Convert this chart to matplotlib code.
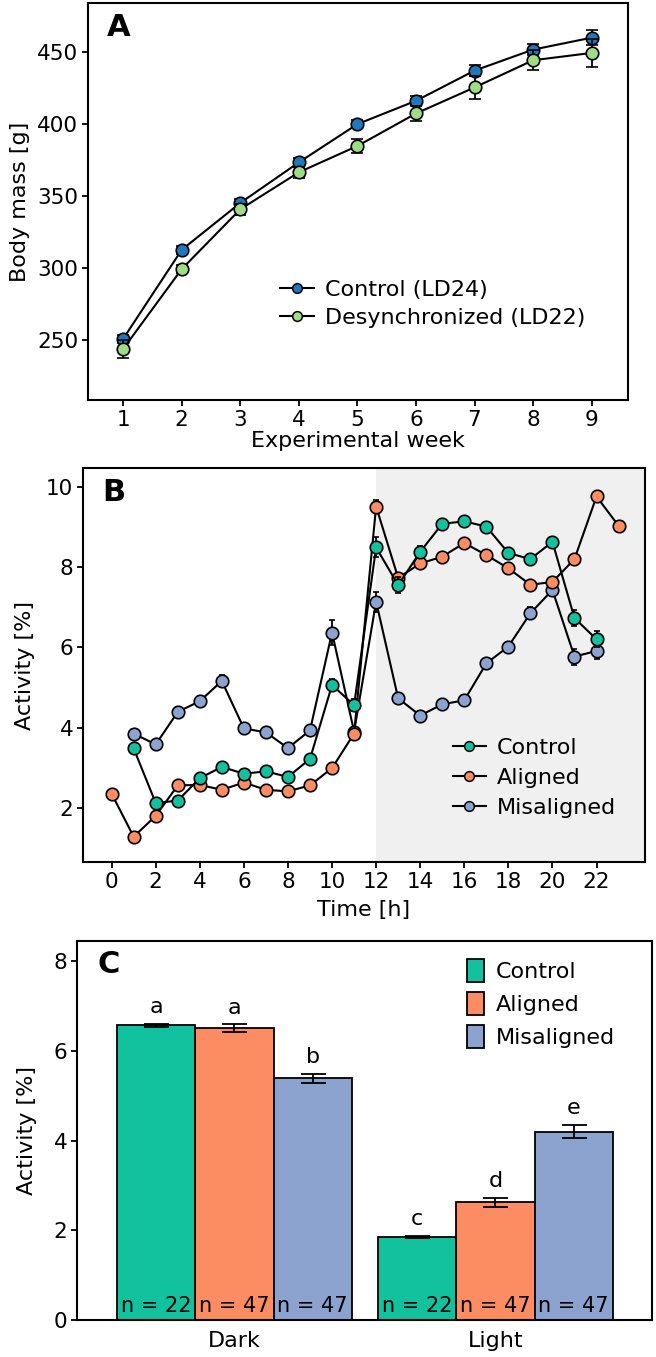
import matplotlib
matplotlib.use('Agg')
import matplotlib.pyplot as plt
from matplotlib.patches import Patch
from matplotlib.lines import Line2D

plt.rcParams['font.family'] = ['DejaVu Sans']

# ---------------- Panel A data ----------------
weeks = [1, 2, 3, 4, 5, 6, 7, 8, 9]
mass_control = [250.5, 312.4, 345.0, 373.2, 399.8, 416.0, 437.0, 451.6, 459.9]
mass_control_err = [3, 3, 3, 3, 3, 3, 4, 4, 5]
mass_desync = [243.5, 299.0, 340.6, 366.3, 384.6, 407.2, 425.3, 444.2, 449.3]
mass_desync_err = [6, 3, 4, 4, 5, 5, 8, 7, 10]

# ---------------- Panel B data ----------------
hours_control = list(range(1, 23))
act_control = [3.48, 2.12, 2.18, 2.74, 3.02, 2.85, 2.91, 2.77, 3.22, 5.06, 4.56,
               8.49, 7.55, 8.38, 9.08, 9.14, 9.01, 8.35, 8.20, 8.63, 6.73, 6.20]
act_control_err = [0.1, 0.1, 0.1, 0.1, 0.1, 0.1, 0.1, 0.1, 0.1, 0.15, 0.15,
                   0.25, 0.2, 0.15, 0.12, 0.12, 0.12, 0.12, 0.12, 0.12, 0.2, 0.2]
hours_aligned = list(range(0, 24))
act_aligned = [2.35, 1.28, 1.80, 2.56, 2.57, 2.45, 2.63, 2.45, 2.41, 2.56, 2.99, 3.85,
               9.51, 7.73, 8.09, 8.26, 8.60, 8.30, 7.97, 7.56, 7.63, 8.20, 9.76, 9.03]
act_aligned_err = [0.08, 0.06, 0.08, 0.08, 0.08, 0.08, 0.08, 0.08, 0.08, 0.08, 0.08, 0.1,
                   0.15, 0.1, 0.1, 0.1, 0.1, 0.1, 0.1, 0.1, 0.1, 0.1, 0.12, 0.08]
hours_mis = list(range(1, 23))
act_mis = [3.85, 3.58, 4.39, 4.66, 5.16, 3.98, 3.88, 3.49, 3.93, 6.37, 3.90,
           7.14, 4.73, 4.30, 4.58, 4.68, 5.60, 6.02, 6.85, 7.43, 5.77, 5.91]
act_mis_err = [0.12, 0.1, 0.12, 0.12, 0.15, 0.12, 0.12, 0.12, 0.12, 0.3, 0.12,
               0.25, 0.12, 0.12, 0.12, 0.12, 0.12, 0.12, 0.15, 0.15, 0.2, 0.2]

# ---------------- Panel C data ----------------
phases = ['Dark', 'Light']
groups = ['Control', 'Aligned', 'Misaligned']
bar_control = [6.57, 1.85]
bar_control_err = [0.04, 0.03]
bar_aligned = [6.51, 2.63]
bar_aligned_err = [0.08, 0.10]
bar_mis = [5.39, 4.20]
bar_mis_err = [0.10, 0.15]
letters_control = ['a', 'c']
letters_aligned = ['a', 'd']
letters_mis = ['b', 'e']
n_control = ['n = 22', 'n = 22']
n_aligned = ['n = 47', 'n = 47']
n_mis = ['n = 47', 'n = 47']

# ---------------- styling ----------------
W, H = 656, 1357
FS = 15.5
FL = 16
col_a_ctrl = '#1f78bd'
col_a_des = '#9fdc86'
col_ctrl = '#12c29f'
col_alig = '#fc8d62'
col_mis = '#8da3cf'

fig = plt.figure(figsize=(W / 100, H / 100), dpi=100)


def px_axes(left, right, top, bottom):
    return fig.add_axes([left / W, 1 - bottom / H, (right - left) / W, (bottom - top) / H])


def style(ax):
    for s in ax.spines.values():
        s.set_linewidth(1.5)
    ax.tick_params(direction='out', length=4, width=1.3, labelsize=FS,
                   top=False, right=False, pad=3)


# ---- Panel A ----
axA = px_axes(88, 628, 3, 400)
style(axA)
axA.errorbar(weeks, mass_desync, yerr=mass_desync_err, color='black', lw=1.5,
             ecolor='black', elinewidth=1.3, capsize=4, capthick=1.3,
             marker='o', ms=9, mfc=col_a_des, mec='black', mew=1.2, zorder=3)
axA.errorbar(weeks, mass_control, yerr=mass_control_err, color='black', lw=1.5,
             ecolor='black', elinewidth=1.3, capsize=4, capthick=1.3,
             marker='o', ms=9, mfc=col_a_ctrl, mec='black', mew=1.2, zorder=2)
axA.set_xlim(0.4, 9.62)
axA.set_ylim(208, 484)
axA.set_xticks(weeks)
axA.set_yticks([250, 300, 350, 400, 450])
axA.set_xlabel('Experimental week', fontsize=FL, labelpad=1)
axA.set_ylabel('Body mass [g]', fontsize=FL, labelpad=5)
axA.text(0.035, 0.975, 'A', transform=axA.transAxes, fontsize=22, fontweight='bold',
         va='top', ha='left')
hA = [Line2D([], [], color='black', lw=1.5, marker='o', ms=7, mfc=col_a_ctrl, mec='black', mew=1.1),
      Line2D([], [], color='black', lw=1.5, marker='o', ms=7, mfc=col_a_des, mec='black', mew=1.1)]
axA.legend(hA, ['Control (LD24)', 'Desynchronized (LD22)'], loc='lower left',
           bbox_to_anchor=(0.34, 0.16), frameon=False, fontsize=FL,
           handlelength=1.5, handletextpad=0.5, labelspacing=0.35, borderaxespad=0)

# ---- Panel B ----
axB = px_axes(83, 645, 468, 862)
style(axB)
axB.axvspan(12, 30, color='#f0f0f0', zorder=0, lw=0)
kw = dict(color='black', lw=1.5, ecolor='black', elinewidth=1.3, capsize=2, capthick=1.3,
          marker='o', ms=9, mec='black', mew=1.2)
axB.errorbar(hours_mis, act_mis, yerr=act_mis_err, mfc=col_mis, zorder=2, **kw)
axB.errorbar(hours_aligned, act_aligned, yerr=act_aligned_err, mfc=col_alig, zorder=3, **kw)
axB.errorbar(hours_control, act_control, yerr=act_control_err, mfc=col_ctrl, zorder=4, **kw)
axB.set_xlim(-1.3, 24.2)
axB.set_ylim(0.65, 10.47)
axB.set_xticks(list(range(0, 23, 2)))
axB.set_yticks([2, 4, 6, 8, 10])
axB.set_xlabel('Time [h]', fontsize=FL, labelpad=6)
axB.set_ylabel('Activity [%]', fontsize=FL, labelpad=8)
axB.text(0.035, 0.975, 'B', transform=axB.transAxes, fontsize=22, fontweight='bold',
         va='top', ha='left')
hB = [Line2D([], [], color='black', lw=1.5, marker='o', ms=7, mfc=c, mec='black', mew=1.1)
      for c in (col_ctrl, col_alig, col_mis)]
axB.legend(hB, groups, loc='lower left', bbox_to_anchor=(0.642, 0.09), frameon=False,
           fontsize=FL, handlelength=1.5, handletextpad=0.5, labelspacing=0.45, borderaxespad=0)

# ---- Panel C ----
axC = px_axes(77, 652, 941, 1320)
style(axC)
bw = 0.3
xs = [0, 1]
series = [(bar_control, bar_control_err, letters_control, n_control, col_ctrl, -bw),
          (bar_aligned, bar_aligned_err, letters_aligned, n_aligned, col_alig, 0.0),
          (bar_mis, bar_mis_err, letters_mis, n_mis, col_mis, bw)]
for vals, errs, lets, ns, col, off in series:
    pos = [x + off for x in xs]
    axC.bar(pos, vals, width=bw, color=col, edgecolor='black', linewidth=1.3, zorder=2)
    axC.errorbar(pos, vals, yerr=errs, fmt='none', ecolor='black', elinewidth=1.3,
                 capsize=9, capthick=1.3, zorder=3)
    for p, v, e, l, n in zip(pos, vals, errs, lets, ns):
        axC.text(p, v + e + 0.15, l, ha='center', va='bottom', fontsize=FL)
        axC.text(p, 0.1, n, ha='center', va='bottom', fontsize=15)
axC.set_xlim(-0.603, 1.6)
axC.set_ylim(0, 8.45)
axC.set_xticks(xs)
axC.set_xticklabels(phases)
axC.tick_params(axis='x', length=0, pad=8, labelsize=FL)
axC.set_yticks([0, 2, 4, 6, 8])
axC.set_ylabel('Activity [%]', fontsize=FL, labelpad=12)
axC.text(0.035, 0.975, 'C', transform=axC.transAxes, fontsize=22, fontweight='bold',
         va='top', ha='left')
hC = [Patch(facecolor=c, edgecolor='black', linewidth=1.3) for c in (col_ctrl, col_alig, col_mis)]
axC.legend(hC, groups, loc='upper left', bbox_to_anchor=(0.662, 0.975), frameon=False,
           fontsize=FL, handlelength=0.8, handleheight=1.2, handletextpad=0.5,
           labelspacing=0.45, borderaxespad=0)

fig.savefig('out.png', dpi=100)
